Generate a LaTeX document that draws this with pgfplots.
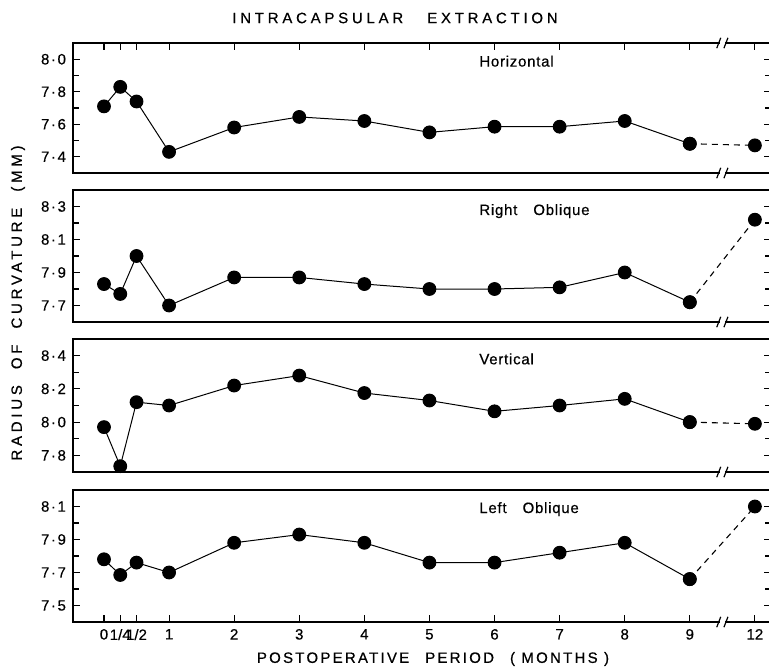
\documentclass[border=0pt]{standalone}
\usepackage{fontspec}
\setmainfont{Liberation Sans}[FakeBold=0.5]
\newfontfamily\spaced[LetterSpace=25,FakeBold=0.6]{Liberation Sans}
\newfontfamily\xspaced[LetterSpace=15,FakeBold=0.6]{Liberation Sans}
\newfontfamily\lspaced[LetterSpace=5,FakeBold=0.5]{Liberation Sans}
\usepackage{pgfplots}
\pgfplotsset{compat=1.18}
\usetikzlibrary{calc}

\newcommand{\brk}[1]{%
  \fill[white] ($(#1)+(-1.3pt,-1.5pt)$) rectangle ($(#1)+(1.3pt,1.5pt)$);
  \draw[line width=0.6pt] ($(#1)+(-2.8pt,-2.6pt)$) -- ($(#1)+(-0.8pt,2.6pt)$);
  \draw[line width=0.6pt] ($(#1)+(0.8pt,-2.6pt)$) -- ($(#1)+(2.8pt,2.6pt)$);}
\newcommand{\dt}{\kern0.8pt·\kern0.8pt}

\tikzset{plabel/.style={anchor=west, inner sep=0pt, font=\lspaced\fontsize{7.5}{8}\selectfont}}

\pgfplotsset{
  panel/.style={
    scale only axis, width=348.75pt, xmin=-0.476, xmax=10.24,
    axis line style={line width=0.85pt},
    tick style={line width=0.55pt, black},
    major tick length=3.5pt, minor tick length=3pt,
    /pgf/number format/assume math mode=true,
    ticklabel style={font=\fontsize{7.5}{8}\selectfont},
    xtick={0,0.25,0.5,1,2,3,4,5,6,7,8,9,10},
    ytick pos=both, yticklabel pos=left,
    clip=false,
  },
  datamk/.style={black, line width=0.5pt, mark=*, mark size=3.2pt, mark options={solid, fill=black}},
  dashseg/.style={black, line width=0.55pt, dash pattern=on 3pt off 2.5pt, no marks},
}

\pgfplotstableread{
x y
0 7.71
0.25 7.83
0.5 7.74
1 7.43
2 7.58
3 7.645
4 7.62
5 7.55
6 7.585
7 7.585
8 7.62
9 7.48
}\horiz
\pgfplotstableread{
x y
9 7.48
10 7.47
}\horizb
\pgfplotstableread{
x y
0 7.83
0.25 7.77
0.5 8.00
1 7.70
2 7.87
3 7.87
4 7.83
5 7.80
6 7.80
7 7.81
8 7.90
9 7.72
}\robl
\pgfplotstableread{
x y
9 7.72
10 8.22
}\roblb
\pgfplotstableread{
x y
0 7.97
0.25 7.735
0.5 8.12
1 8.10
2 8.22
3 8.28
4 8.175
5 8.13
6 8.065
7 8.10
8 8.14
9 8.00
}\vert
\pgfplotstableread{
x y
9 8.00
10 7.99
}\vertb
\pgfplotstableread{
x y
0 7.78
0.25 7.685
0.5 7.76
1 7.70
2 7.88
3 7.93
4 7.88
5 7.76
6 7.76
7 7.82
8 7.88
9 7.66
}\lobl
\pgfplotstableread{
x y
9 7.66
10 8.10
}\loblb

\begin{document}
\begin{tikzpicture}
\useasboundingbox (0,0) rectangle (384.5pt,-336pt);

\node[font=\spaced\fontsize{7.5}{8}\selectfont] at (197.5pt,-9pt) {INTRACAPSULAR\hspace{12pt}EXTRACTION};
\node[rotate=90, font=\spaced\fontsize{7.5}{8}\selectfont] at (9pt,-151.5pt) {RADIUS\hspace{8pt}OF\hspace{8pt}CURVATURE\hspace{8pt}(MM)};
\node[font=\xspaced\fontsize{7.5}{8}\selectfont] at (216.5pt,-329.5pt) {POSTOPERATIVE\hspace{8pt}PERIOD\hspace{8pt}( MONTHS )};

% Panel 1: Horizontal
\begin{axis}[panel, at={(36.5pt,-21.5pt)}, anchor=north west, height=65pt,
  ymin=7.3, ymax=8.1, ytick={7.4,7.6,7.8,8.0}, minor ytick={7.5,7.7,7.9},
  yticklabels={7\dt4,7\dt6,7\dt8,8\dt0},
  xtick pos=right, xticklabels={}]
\addplot[dashseg] table {\horizb};
\addplot[datamk] table {\horiz};
\addplot[datamk, only marks] table {\horizb};
\node[plabel] at (rel axis cs:0.582,0.86) {Horizontal};
\brk{axis cs:9.5,8.1}
\brk{axis cs:9.5,7.3}
\end{axis}

% Panel 2: Right Oblique
\begin{axis}[panel, at={(36.5pt,-95pt)}, anchor=north west, height=66pt,
  ymin=7.6, ymax=8.4, ytick={7.7,7.9,8.1,8.3}, minor ytick={7.8,8.0,8.2},
  yticklabels={7\dt7,7\dt9,8\dt1,8\dt3},
  xtick=\empty]
\addplot[dashseg] table {\roblb};
\addplot[datamk] table {\robl};
\addplot[datamk, only marks] table {\roblb};
\node[plabel] at (rel axis cs:0.582,0.84) {Right\hspace{8pt}Oblique};
\brk{axis cs:9.5,7.6}
\end{axis}

% Panel 3: Vertical
\begin{axis}[panel, at={(36.5pt,-169.5pt)}, anchor=north west, height=66.5pt,
  ymin=7.7, ymax=8.5, ytick={7.8,8.0,8.2,8.4}, minor ytick={7.9,8.1,8.3},
  yticklabels={7\dt8,8\dt0,8\dt2,8\dt4},
  xtick=\empty]
\addplot[dashseg] table {\vertb};
\addplot[datamk] table {\vert};
\addplot[datamk, only marks] table {\vertb};
\node[plabel] at (rel axis cs:0.582,0.85) {Vertical};
\brk{axis cs:9.5,7.7}
\end{axis}

% Panel 4: Left Oblique
\begin{axis}[panel, at={(36.5pt,-245pt)}, anchor=north west, height=66pt,
  ymin=7.4, ymax=8.2, ytick={7.5,7.7,7.9,8.1}, minor ytick={7.6,7.8,8.0},
  yticklabels={7\dt5,7\dt7,7\dt9,8\dt1},
  xtick pos=left,
  xticklabels={0,1/4,1/2,1,2,3,4,5,6,7,8,9,12},
  xticklabel style={font=\fontsize{7.5}{8}\selectfont, inner xsep=0pt}]
\addplot[dashseg] table {\loblb};
\addplot[datamk] table {\lobl};
\addplot[datamk, only marks] table {\loblb};
\node[plabel] at (rel axis cs:0.582,0.855) {Left\hspace{8pt}Oblique};
\brk{axis cs:9.5,7.4}
\end{axis}
\end{tikzpicture}
\end{document}
